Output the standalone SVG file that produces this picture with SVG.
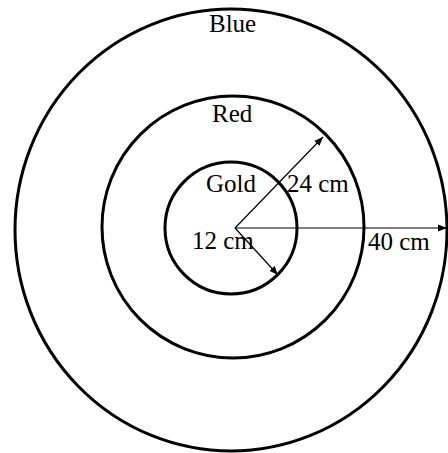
<svg xmlns="http://www.w3.org/2000/svg" width="448" height="453" viewBox="0 0 448 453">
<defs>
<marker id="ah" viewBox="0 0 10 10" refX="10" refY="5" markerWidth="9" markerHeight="9" markerUnits="userSpaceOnUse" orient="auto">
<path d="M0,1 L10,5 L0,9 Z" fill="#000"/>
</marker>
</defs>
<style>
.ring{fill:none;stroke:#000;stroke-width:3}
.arr{stroke:#000;stroke-width:1.2;fill:none;marker-end:url(#ah)}
text{font-family:"Liberation Serif","Times New Roman",serif;font-size:25px;fill:#000}
</style>
<rect width="448" height="453" fill="#fff"/>
<g id="blue"><ellipse class="ring" cx="231" cy="230" rx="216" ry="221"/><text x="209" y="32">Blue</text></g>
<g id="red"><circle class="ring" cx="233" cy="227" r="131"/><text x="212" y="122">Red</text></g>
<g id="gold"><circle class="ring" cx="231" cy="228" r="66"/><text x="206" y="192">Gold</text></g>
<g id="connectors">
<line class="arr" x1="235" y1="228" x2="323" y2="137"/>
<line class="arr" x1="235" y1="228" x2="447" y2="228"/>
<line class="arr" x1="235" y1="228" x2="278" y2="275"/>
</g>
<g id="labels">
<text x="287" y="192">24 cm</text>
<text x="368" y="250">40 cm</text>
<text x="192" y="249">12 cm</text>
</g>
</svg>
